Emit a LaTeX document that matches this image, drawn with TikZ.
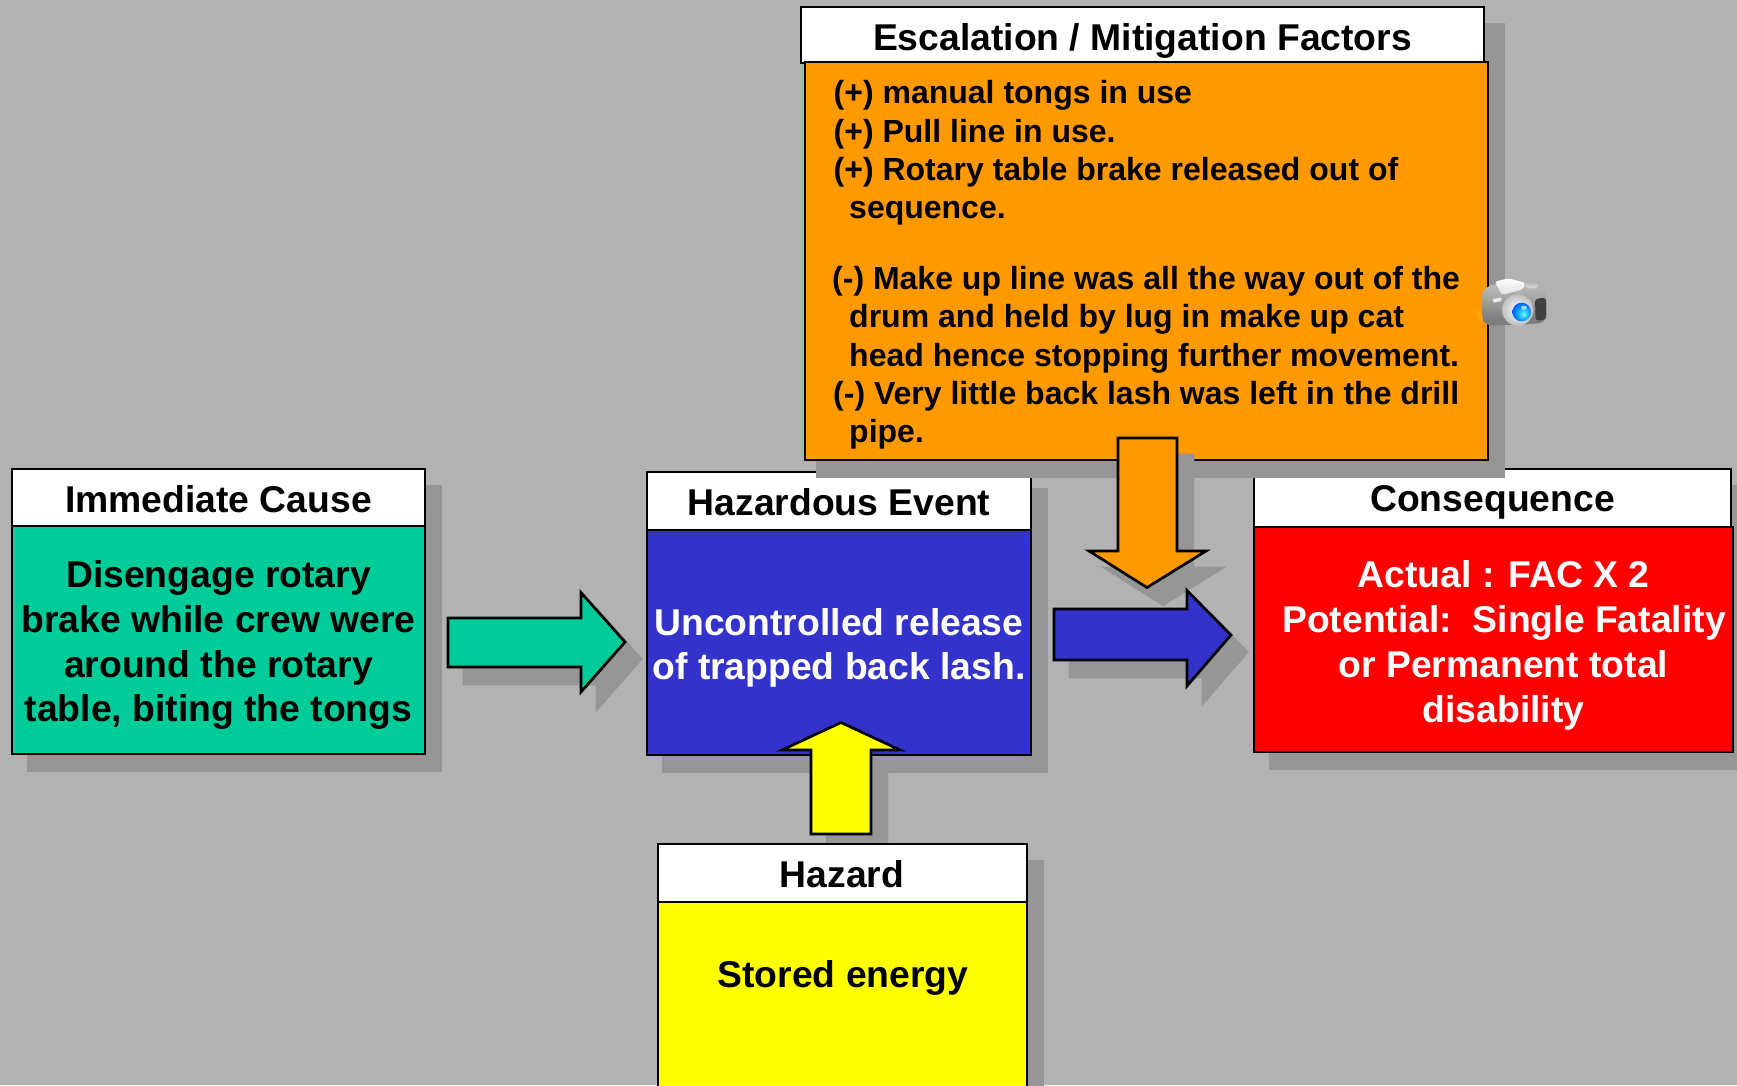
\documentclass[tikz,border=0pt]{standalone}
\usepackage{fontspec}
\setmainfont{Liberation Sans}
\definecolor{bggray}{HTML}{B2B2B2}
\definecolor{shadowgray}{HTML}{969696}
\definecolor{causegreen}{HTML}{00CC99}
\definecolor{eventblue}{HTML}{3333CC}
\definecolor{factororange}{HTML}{FF9900}
\definecolor{consred}{HTML}{FF0000}
\definecolor{hazyellow}{HTML}{FFFF00}
\pgfdeclareradialshading{lensblue}{\pgfpoint{6bp}{-6bp}}{color(0bp)=(cyan!60!white);color(20bp)=(blue!45!cyan);color(40bp)=(blue!85!cyan);color(50bp)=(blue!85!black)}
\pgfdeclareradialshading{lensring}{\pgfpoint{0bp}{0bp}}{color(0bp)=(white);color(30bp)=(gray!60!white);color(38bp)=(white!95!gray);color(50bp)=(gray!95!white)}
\pgfdeclareverticalshading{camerabody}{100bp}{color(0bp)=(gray!90!black);color(35bp)=(gray);color(70bp)=(gray!55!white);color(100bp)=(gray!40!white)}
\tikzset{
  panelbox/.style={rectangle,draw=black,line width=2.7pt,inner sep=0pt,outer sep=0pt},
  headfill/.style={panelbox,fill=white},
  dropshade/.style={draw=shadowgray,fill=shadowgray,line width=2.7pt,line join=miter,shift={(16pt,-17pt)}},
  blockarrow/.style={draw=black,line width=2.7pt,line join=miter,miter limit=10},
  bigtext/.style={font=\fontsize{37.3}{45}\selectfont\bfseries,inner sep=0pt,anchor=base},
  listtext/.style={font=\fontsize{32}{38}\selectfont\bfseries,inner sep=0pt,anchor=base west},
}
\newcommand\panelshade[4]{\path[dropshade] (#1,#2) rectangle (#3,#4);}
\newcommand\panel[6]{%
  \pgfmathsetmacro\pcx{(#2+#4)/2}\pgfmathsetmacro\pcy{(#3+#5)/2}%
  \pgfmathsetmacro\pw{#4-#2}\pgfmathsetmacro\ph{#5-#3}%
  \node[#6,minimum width=\pw pt,minimum height=\ph pt] (#1) at (\pcx,\pcy) {};}
\begin{document}
\begin{tikzpicture}[x=1pt,y=-1pt]
\clip (0,0) rectangle (1737,1085);
\fill[bggray] (0,0) rectangle (1737,1085);

% Immediate Cause
\panelshade{12}{469}{425}{754}
\panel{causehead}{12}{469}{425}{526}{headfill}
\panel{causebody}{12}{526}{425}{754}{panelbox,fill=causegreen}
\node[bigtext] (causetitle) at (218.5,512) {Immediate Cause};
\node[bigtext] (causea) at (218.5,587) {Disengage rotary};
\node[bigtext] (causeb) at (218.5,632) {brake while crew were};
\node[bigtext] (causec) at (218.5,677) {around the rotary};
\node[bigtext] (caused) at (218.5,721) {table, biting the tongs};

% green arrow
\def\greenarrow{(448,618) -- (581,618) -- (581,592.5) -- (625,642) -- (581,692) -- (581,667) -- (448,667) -- cycle}
\path[dropshade] \greenarrow;
\draw[blockarrow,fill=causegreen] \greenarrow;

% yellow arrow shadow sits under the event panel
\def\yellowarrow{(811,834) -- (811,750) -- (782,750) -- (841,722.5) -- (900,750) -- (871,750) -- (871,834) -- cycle}
\path[dropshade] \yellowarrow;

% Hazardous Event
\panelshade{647}{472}{1031}{755}
\panel{eventhead}{647}{472}{1031}{530}{headfill}
\panel{eventbody}{647}{530}{1031}{755}{panelbox,fill=eventblue}
\node[bigtext] (eventtitle) at (839,515) {Hazardous Event};
\node[bigtext,text=white] (eventa) at (839,635) {Uncontrolled release};
\node[bigtext,text=white] (eventb) at (839,679) {of trapped back lash.};

% Hazard
\panelshade{658}{844}{1027}{1120}
\panel{hazhead}{658}{844}{1027}{902}{headfill}
\panel{hazbody}{658}{902}{1027}{1120}{panelbox,fill=hazyellow}
\node[bigtext] (haztitle) at (842,887.5) {Hazard};
\node[bigtext] (haztext) at (843,987) {Stored energy};

% Consequence
\panelshade{1254}{469}{1733}{752}
\panel{conshead}{1254}{469}{1731}{527}{headfill}
\panel{consbody}{1254}{527}{1733}{752}{panelbox,fill=consred}
\node[bigtext] (constitle) at (1492.5,511) {Consequence};
\node[bigtext,text=white] (consa) at (1503.5,587) {Actual : FAC X 2};
\node[bigtext,text=white] (consb) at (1504,632) {Potential:\ \ Single Fatality};
\node[bigtext,text=white] (consc) at (1503.5,677) {or Permanent total};
\node[bigtext,text=white] (consd) at (1503.5,722) {disability};

% Escalation / Mitigation Factors
\panelshade{801}{7}{1488}{460}
\panel{eschead}{801}{7}{1484}{63}{headfill}
\panel{escbody}{805}{62}{1488}{460}{panelbox,fill=factororange}
\node[bigtext] (esctitle) at (1142.5,50) {Escalation / Mitigation Factors};
\node[listtext] (esca) at (833.5,103) {(+) manual tongs in use};
\node[listtext] (escb) at (833.5,142) {(+) Pull line in use.};
\node[listtext] (escc) at (833.5,180) {(+) Rotary table brake released out of};
\node[listtext] (escd) at (849,218) {sequence.};
\node[listtext] (esce) at (832,289) {(-) Make up line was all the way out of the};
\node[listtext] (escf) at (849,327) {drum and held by lug in make up cat};
\node[listtext] (escg) at (849,366) {head hence stopping further movement.};
\node[listtext] (esch) at (833,404) {(-) Very little back lash was left in the drill};
\node[listtext] (esci) at (849,442) {pipe.};

% yellow arrow
\draw[blockarrow,fill=hazyellow] \yellowarrow;

% orange arrow
\def\orangearrow{(1118,438) -- (1177,438) -- (1177,551) -- (1206,551) -- (1147,587.5) -- (1089,551) -- (1118,551) -- cycle}
\path[dropshade] \orangearrow;
\draw[blockarrow,fill=factororange] \orangearrow;

% blue arrow
\def\bluearrow{(1054,609) -- (1187,609) -- (1187,590.5) -- (1231,635) -- (1187,686) -- (1187,660) -- (1054,660) -- cycle}
\path[dropshade] \bluearrow;
\draw[blockarrow,fill=eventblue] \bluearrow;

% camera
\begin{scope}[shift={(1440pt,-240pt)},x=0.3333pt,y=-0.3333pt]
  \fill[factororange!70!yellow,opacity=.5] (105,205) -- (125,225) -- (128,250) -- (118,240) -- cycle;
  \path[shading=camerabody,rounded corners=7pt]
    (125,150) -- (165,130) -- (255,128) -- (318,150) -- (320,245) -- (285,252) -- (135,257) -- (126,235) -- cycle;
  \shade[top color=white,bottom color=white!75!gray,rounded corners=2pt]
    (165,125) -- (205,115) -- (255,128) -- (250,148) -- (185,165) -- cycle;
  \shade[top color=gray!60!white,bottom color=white!75!gray] (275,135) ellipse (20 and 10);
  \fill[white!85!gray,draw=gray!60!white,line width=.5pt] (158,176) -- (184,172) -- (185,184) -- (160,188) -- cycle;
  \fill[black!75!white,rounded corners=3pt] (285,177) -- (318,173) -- (318,238) -- (287,243) -- cycle;
  \path[shading=lensring] (233,210) circle (47);
  \path[shading=lensblue] (245,216) circle (28);
  \fill[white,opacity=.6] (252,203) ellipse (9 and 6);
\end{scope}
\end{tikzpicture}
\end{document}
